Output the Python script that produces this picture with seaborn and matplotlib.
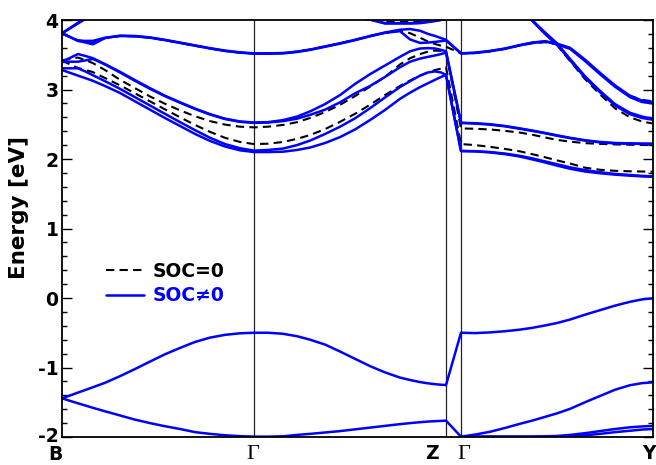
import numpy as np
import pandas as pd
import seaborn as sns
import matplotlib
matplotlib.use("Agg")
import matplotlib.pyplot as plt
from matplotlib.lines import Line2D
import matplotlib.transforms as mtransforms

# ---- data ----
# path coordinate (in units of the B-Gamma length)
k_path = [0.0, 0.042, 0.083, 0.125, 0.161, 0.224, 0.302, 0.380, 0.458, 0.536,
          0.615, 0.693, 0.771, 0.849, 0.927, 1.0,
          1.073, 1.151, 1.224, 1.292, 1.370, 1.448, 1.526, 1.604, 1.682,
          1.760, 1.813, 1.865, 1.906, 1.943, 1.974, 2.0,
          2.078,
          2.151, 2.229, 2.307, 2.385, 2.448, 2.516, 2.578, 2.646, 2.724,
          2.802, 2.880, 2.958, 3.021, 3.078]
sym_pos = [0.0, 1.0, 2.0, 2.078, 3.078]
sym_labels = ["B", "Γ", "Z", "Γ", "Y"]
nan = np.nan

# SOC != 0 (blue)
soc_v1 = [-1.443, -1.48, -1.515, -1.55, -1.58, -1.63, -1.69, -1.75, -1.80, -1.845, -1.885, -1.93, -1.955, -1.975, -1.988, -1.995,
          -1.995, -1.99, -1.97, -1.955, -1.935, -1.915, -1.89, -1.865, -1.84, -1.815, -1.80, -1.787, -1.778, -1.772, -1.768, -1.765,
          -1.995,
          -1.965, -1.925, -1.87, -1.81, -1.765, -1.71, -1.66, -1.595, -1.50, -1.41, -1.32, -1.255, -1.225, -1.213]
soc_v2 = [-1.443, -1.402, -1.361, -1.32, -1.284, -1.22, -1.125, -1.022, -0.915, -0.81, -0.718, -0.632, -0.57, -0.53, -0.508, -0.50,
          -0.50, -0.515, -0.55, -0.60, -0.67, -0.77, -0.875, -0.98, -1.07, -1.145, -1.18, -1.21, -1.228, -1.24, -1.248, -1.252,
          -0.50,
          -0.505, -0.495, -0.478, -0.455, -0.43, -0.395, -0.36, -0.31, -0.24, -0.175, -0.11, -0.055, -0.02, -0.005]
soc_v3 = [nan] * 32 + [-1.995,
          -1.995, -1.995, -1.995, -1.995, -1.995, -1.99, -1.985, -1.97, -1.945, -1.915, -1.885, -1.86, -1.848, -1.84]
soc_v4 = [nan] * 32 + [-1.995,
          -1.995, -1.995, -1.995, -1.995, -1.995, -1.995, -1.995, -1.99, -1.975, -1.955, -1.93, -1.91, -1.893, -1.885]
soc_c1 = [3.28, 3.24, 3.20, 3.16, 3.125, 3.05, 2.95, 2.83, 2.71, 2.59, 2.475, 2.36, 2.26, 2.18, 2.125, 2.10,
          2.10, 2.105, 2.13, 2.165, 2.23, 2.315, 2.425, 2.56, 2.705, 2.865, 2.955, 3.035, 3.09, 3.14, 3.18, 3.21,
          2.115,
          2.11, 2.095, 2.07, 2.035, 1.995, 1.95, 1.905, 1.86, 1.82, 1.795, 1.775, 1.76, 1.75, 1.745]
soc_c2 = [3.305, 3.305, 3.305, 3.255, 3.205, 3.12, 3.01, 2.89, 2.77, 2.65, 2.53, 2.415, 2.305, 2.215, 2.155, 2.12,
          2.13, 2.15, 2.20, 2.265, 2.36, 2.465, 2.585, 2.73, 2.885, 3.035, 3.12, 3.20, 3.245, 3.26, 3.245, 3.21,
          2.115,
          2.112, 2.10, 2.078, 2.045, 2.01, 1.965, 1.925, 1.88, 1.84, 1.81, 1.785, 1.77, 1.757, 1.75]
soc_c3 = [3.40, 3.40, 3.40, 3.42, 3.44, 3.36, 3.245, 3.125, 3.01, 2.905, 2.81, 2.72, 2.64, 2.575, 2.535, 2.52,
          2.525, 2.545, 2.58, 2.635, 2.71, 2.815, 2.945, 3.05, 3.18, 3.32, 3.40, 3.445, 3.47, 3.49, 3.51, 3.53,
          2.52,
          2.51, 2.495, 2.47, 2.435, 2.405, 2.37, 2.335, 2.30, 2.265, 2.24, 2.225, 2.22, 2.217, 2.215]
soc_c4 = [3.40, 3.455, 3.51, 3.48, 3.45, 3.365, 3.255, 3.135, 3.02, 2.91, 2.815, 2.725, 2.645, 2.58, 2.54, 2.525,
          2.53, 2.56, 2.61, 2.685, 2.79, 2.92, 3.08, 3.22, 3.345, 3.47, 3.55, 3.59, 3.595, 3.59, 3.57, 3.55,
          2.52,
          2.515, 2.50, 2.475, 2.44, 2.41, 2.375, 2.34, 2.305, 2.27, 2.245, 2.23, 2.225, 2.222, 2.22]
soc_c5 = [3.81, 3.755, 3.70, 3.70, 3.70, 3.745, 3.77, 3.765, 3.745, 3.71, 3.67, 3.63, 3.59, 3.555, 3.53, 3.515,
          3.515, 3.52, 3.54, 3.57, 3.615, 3.66, 3.71, 3.765, 3.815, 3.84, 3.72, 3.67, 3.675, 3.685, 3.695, 3.705,
          3.52,
          3.525, 3.55, 3.585, 3.635, 3.67, 3.69, 3.65, 3.585, 3.41, 3.22, 3.04, 2.89, 2.82, 2.80]
soc_c6 = [3.81, 3.755, 3.70, 3.675, 3.65, 3.74, 3.775, 3.77, 3.75, 3.715, 3.675, 3.635, 3.595, 3.56, 3.535, 3.52,
          3.52, 3.525, 3.545, 3.575, 3.62, 3.665, 3.715, 3.77, 3.82, 3.86, 3.87, 3.845, 3.80, 3.77, 3.74, 3.715,
          3.52,
          3.53, 3.555, 3.59, 3.64, 3.675, 3.695, 3.66, 3.60, 3.43, 3.24, 3.06, 2.91, 2.84, 2.82]
soc_c7 = [3.81, 3.885, 3.96, 4.03, 4.10, 4.18, 4.27, 4.32, 4.36, 4.39, 4.41, 4.41, 4.41, 4.38, 4.34, 4.31,
          4.29, 4.26, 4.22, 4.18, 4.14, 4.09, 4.05, 4.01, 3.955, 3.955, 3.955, 3.96, 3.975, 3.99, 4.005, 4.03,
          4.6,
          4.55, 4.45, 4.31, 4.15, 3.99, 3.80, 3.645, 3.42, 3.17, 2.96, 2.77, 2.645, 2.59, 2.565]
soc_c8 = [3.81, 3.88, 3.95, 4.02, 4.08, 4.16, 4.25, 4.30, 4.35, 4.38, 4.40, 4.40, 4.40, 4.37, 4.33, 4.30,
          4.28, 4.25, 4.21, 4.17, 4.13, 4.08, 4.04, 4.005, 3.95, 3.95, 3.95, 3.955, 3.97, 3.985, 4.0, 4.02,
          4.6,
          4.55, 4.45, 4.32, 4.16, 4.0, 3.82, 3.665, 3.44, 3.19, 2.98, 2.79, 2.665, 2.61, 2.58]

# SOC = 0 (black dashed)
nosoc_c1 = [3.42, 3.36, 3.31, 3.28, 3.25, 3.165, 3.06, 2.945, 2.83, 2.715, 2.60, 2.49, 2.39, 2.305, 2.245, 2.215,
            2.22, 2.245, 2.29, 2.345, 2.43, 2.535, 2.65, 2.78, 2.92, 3.05, 3.13, 3.20, 3.245, 3.28, 3.30, 3.32,
            2.215,
            2.20, 2.175, 2.145, 2.11, 2.07, 2.025, 1.98, 1.935, 1.875, 1.845, 1.83, 1.823, 1.82, 1.817]
nosoc_c2 = [3.42, 3.44, 3.46, 3.42, 3.38, 3.28, 3.14, 3.02, 2.90, 2.795, 2.70, 2.615, 2.545, 2.495, 2.465, 2.455,
            2.465, 2.49, 2.53, 2.59, 2.675, 2.78, 2.905, 3.04, 3.18, 3.36, 3.45, 3.51, 3.545, 3.56, 3.555, 3.54,
            2.44,
            2.435, 2.425, 2.405, 2.38, 2.35, 2.31, 2.275, 2.25, 2.228, 2.218, 2.21, 2.205, 2.202, 2.20]
nosoc_c3 = [3.80, 3.755, 3.71, 3.695, 3.68, 3.74, 3.77, 3.765, 3.745, 3.71, 3.67, 3.63, 3.59, 3.555, 3.53, 3.52,
            3.52, 3.525, 3.545, 3.575, 3.62, 3.665, 3.715, 3.77, 3.815, 3.845, 3.81, 3.745, 3.69, 3.655, 3.63, 3.615,
            3.52,
            3.525, 3.55, 3.585, 3.635, 3.665, 3.68, 3.65, 3.59, 3.42, 3.23, 3.05, 2.91, 2.85, 2.83]
nosoc_c4 = [3.81, 3.88, 3.955, 4.025, 4.09, 4.17, 4.26, 4.31, 4.35, 4.38, 4.40, 4.40, 4.40, 4.37, 4.33, 4.30,
            4.28, 4.25, 4.21, 4.17, 4.13, 4.08, 4.04, 4.0, 3.975, 3.97, 3.97, 3.975, 3.985, 3.995, 4.01, 4.03,
            4.6,
            4.55, 4.45, 4.31, 4.15, 3.99, 3.80, 3.64, 3.41, 3.15, 2.93, 2.73, 2.60, 2.54, 2.51]

soc_bands = [soc_v1, soc_v2, soc_v3, soc_v4, soc_c1, soc_c2, soc_c3,
             soc_c4, soc_c5, soc_c6, soc_c7, soc_c8]
nosoc_bands = [nosoc_c1, nosoc_c2, nosoc_c3, nosoc_c4]


def to_frame(bands):
    rows = []
    for i, b in enumerate(bands):
        assert len(b) == len(k_path)
        for k, e in zip(k_path, b):
            rows.append({"k": k, "E": e, "band": i})
    return pd.DataFrame(rows).dropna()


df_soc = to_frame(soc_bands)
df_nosoc = to_frame(nosoc_bands)

# ---- plot ----
sns.set_theme(style="ticks")
plt.rcParams["font.family"] = ["DejaVu Sans"]
plt.rcParams["font.weight"] = "bold"
for key in ("text.color", "axes.labelcolor", "xtick.color", "ytick.color",
            "axes.edgecolor"):
    plt.rcParams[key] = "black"

fig = plt.figure(figsize=(6.56, 4.65), dpi=100)
ax = fig.add_axes([62 / 656, 28 / 465, 591 / 656, 417 / 465])

dash = (0, (4, 2.5))
sns.lineplot(data=df_nosoc, x="k", y="E", units="band", estimator=None,
             sort=False, color="black", lw=1.5, linestyle=dash, ax=ax)
sns.lineplot(data=df_soc, x="k", y="E", units="band", estimator=None,
             sort=False, color="#0000ff", lw=1.8, ax=ax)

for xp in sym_pos[1:-1]:
    ax.axvline(xp, color="#222222", lw=0.9, zorder=0.5)

ax.set_xlim(sym_pos[0], sym_pos[-1])
ax.set_ylim(-2, 4)
ax.set_xlabel("")
ax.set_ylabel("Energy [eV]", fontsize=15.5, fontweight="bold", color="black")
ax.yaxis.set_label_coords(-0.056, 0.55)

ax.set_yticks(np.arange(-2, 5, 1))
ax.set_yticklabels([str(v) for v in range(-2, 5)])
ax.set_yticks(np.arange(-2, 4.01, 0.2), minor=True)
ax.tick_params(axis="y", which="major", direction="in", length=7, width=1,
               left=True, right=True, labelsize=13.5, pad=2.5,
               colors="black")
ax.tick_params(axis="y", which="minor", direction="in", length=3.5, width=1,
               left=True, right=True, colors="black")
for lab in ax.get_yticklabels():
    lab.set_fontweight("bold")

ax.set_xticks(sym_pos)
ax.set_xticklabels(sym_labels)
ax.tick_params(axis="x", length=0, pad=5, labelsize=13.5, colors="black")


def shift(lab, dx, dy):
    lab.set_transform(lab.get_transform() +
                      mtransforms.ScaledTranslation(dx / 100, dy / 100, fig.dpi_scale_trans))


# lift the lowest energy label a little so it clears the "B"
shift(ax.get_yticklabels()[0], 0, 3)

xl = ax.get_xticklabels()
for i, lab in enumerate(xl):
    if sym_labels[i] == "Γ":
        lab.set_fontfamily(["Liberation Serif", "DejaVu Serif"])
        lab.set_fontweight("normal")
        lab.set_fontsize(16)
    else:
        lab.set_fontweight("bold")
xl[0].set_horizontalalignment("right")
shift(xl[0], 1, -1)
shift(xl[1], -1, -1)
xl[2].set_horizontalalignment("right")
shift(xl[2], -7, 0)
shift(xl[3], 3, -1)
xl[4].set_horizontalalignment("right")
shift(xl[4], 3, 0)

for s in ax.spines.values():
    s.set_linewidth(1.3)
    s.set_color("black")

handles = [Line2D([], [], color="black", lw=1.5, linestyle=dash),
           Line2D([], [], color="#0000ff", lw=1.8)]
leg = ax.legend(handles, ["SOC=0", "SOC≠0"], loc="upper left",
                bbox_to_anchor=(0.075, 0.42), frameon=False,
                prop={"weight": "bold", "size": 13.5}, handlelength=2.0,
                handletextpad=0.45, labelspacing=0.3, borderpad=0,
                borderaxespad=0, labelcolor=["black", "#0000ff"])

fig.savefig("out.png", dpi=100)
